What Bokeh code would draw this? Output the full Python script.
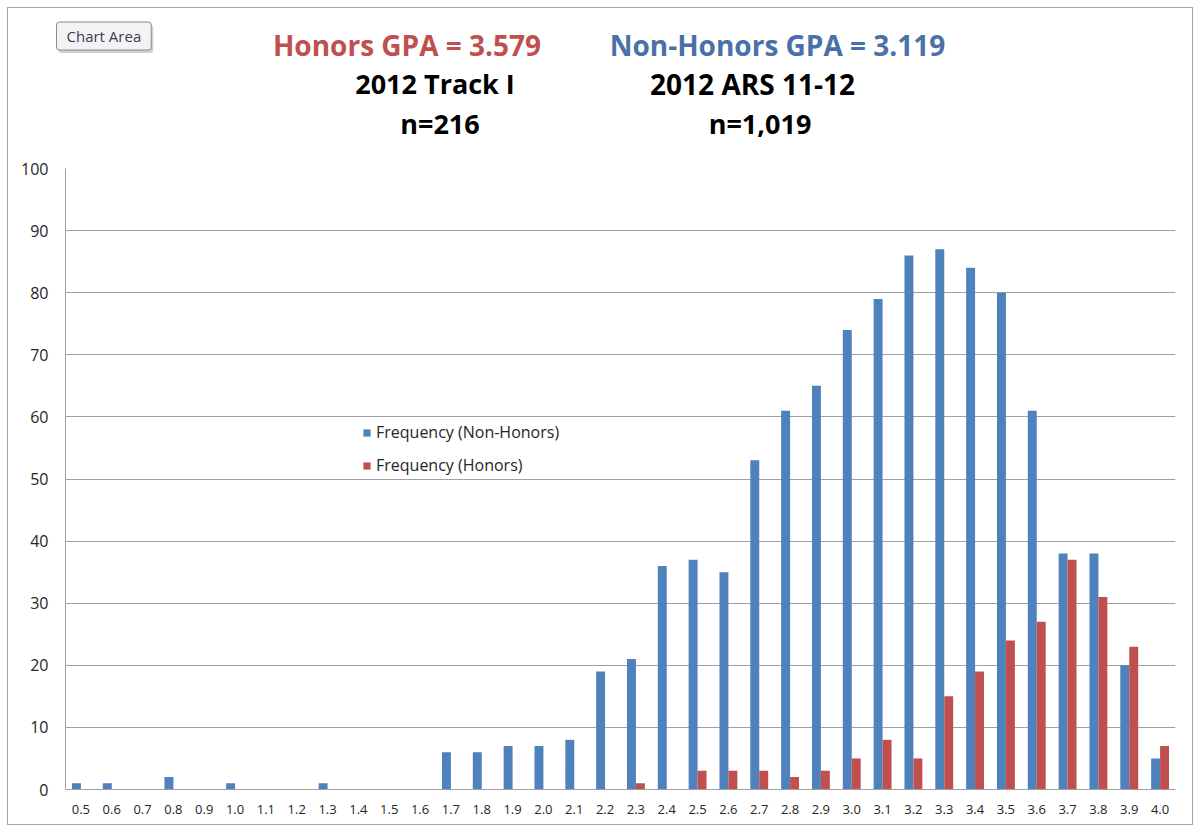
from bokeh.plotting import figure
from bokeh.layouts import column, row
from bokeh.models import ColumnDataSource, FactorRange, Label, Legend, LegendItem, Range1d
from bokeh.transform import dodge
from bokeh.embed import file_html
from bokeh.resources import INLINE

gpa = ["0.5", "0.6", "0.7", "0.8", "0.9", "1.0", "1.1", "1.2", "1.3", "1.4",
       "1.5", "1.6", "1.7", "1.8", "1.9", "2.0", "2.1", "2.2", "2.3", "2.4",
       "2.5", "2.6", "2.7", "2.8", "2.9", "3.0", "3.1", "3.2", "3.3", "3.4",
       "3.5", "3.6", "3.7", "3.8", "3.9", "4.0"]
non_honors = [1, 1, 0, 2, 0, 1, 0, 0, 1, 0,
              0, 0, 6, 6, 7, 7, 8, 19, 21, 36,
              37, 35, 53, 61, 65, 74, 79, 86, 87, 84,
              80, 61, 38, 38, 20, 5]
honors = [0, 0, 0, 0, 0, 0, 0, 0, 0, 0,
          0, 0, 0, 0, 0, 0, 0, 0, 1, 0,
          3, 3, 3, 2, 3, 5, 8, 5, 15, 19,
          24, 27, 37, 31, 23, 7]
y_ticks = [0, 10, 20, 30, 40, 50, 60, 70, 80, 90, 100]

FONT = "Open Sans"
BLUE = "#4f81bd"
RED = "#c0504d"

LEFT, RIGHT, FW = 57, 17, 1110

# ---- header (titles) ----
t = figure(frame_width=1184, frame_height=150, x_range=Range1d(8, 1192), y_range=Range1d(158, 8),
           min_border=0, x_axis_location=None, y_axis_location=None,
           output_backend="svg", toolbar_location=None, outline_line_color=None,
           background_fill_color="white", border_fill_color="white")
t.xgrid.visible = False
t.ygrid.visible = False

def add_text(txt, x, y, color, size):
    t.add_layout(Label(x=x, y=y, text=txt,
                       text_font=FONT, text_font_style="bold", text_font_size=size,
                       text_color=color, text_align="center", text_baseline="middle"))

add_text("Honors GPA = 3.579", 406.5, 44, RED, "28px")
add_text("Non-Honors GPA = 3.119", 777, 44, "#4a70a8", "28px")
add_text("2012 Track I", 434.5, 83, "black", "27px")
add_text("n=216", 439.5, 123, "black", "27px")
add_text("2012 ARS 11-12", 752, 83, "black", "28px")
add_text("n=1,019", 759.5, 123, "black", "27px")

# "Chart Area" tag with a soft shadow
t.add_layout(Label(x=58, y=38.5, text="Chart Area",
                   text_font=FONT, text_font_size="15px", text_color="#d0d0d0",
                   text_align="left", text_baseline="middle",
                   background_fill_color="#d0d0d0", border_line_color=None,
                   padding=(10, 4), border_radius=3))
t.add_layout(Label(x=56, y=35.5, text="Chart Area",
                   text_font=FONT, text_font_size="15px", text_color="#3c3c50",
                   text_align="left", text_baseline="middle",
                   background_fill_color="#f3f3f7", border_line_color="#8a8a8a",
                   padding=(10, 4), border_radius=3))

# ---- main chart ----
src = ColumnDataSource(dict(gpa=gpa, non_honors=non_honors, honors=honors))

p = figure(x_range=FactorRange(factors=gpa), y_range=Range1d(0, 100),
           frame_width=FW, frame_height=621,
           min_border_left=LEFT, min_border_right=RIGHT, min_border_top=10, min_border_bottom=35,
           output_backend="svg", toolbar_location=None, outline_line_color=None,
           background_fill_color="white", border_fill_color="white")

r1 = p.vbar(x=dodge("gpa", -0.145, range=p.x_range), top="non_honors", width=0.29,
            source=src, fill_color=BLUE, line_color=None)
r2 = p.vbar(x=dodge("gpa", 0.145, range=p.x_range), top="honors", width=0.29,
            source=src, fill_color=RED, line_color=None)

p.xgrid.visible = False
p.ygrid.grid_line_color = "#a0a0a0"
p.ygrid.grid_line_width = 1

p.yaxis.ticker = y_ticks
for ax in (p.xaxis, p.yaxis):
    ax.axis_line_color = "#a0a0a0"
    ax.major_tick_line_color = None
    ax.minor_tick_line_color = None
    ax.major_tick_out = 0
    ax.major_tick_in = 0
    ax.major_label_text_font = FONT
    ax.major_label_text_color = "#262626"
p.yaxis.major_label_text_font_size = "16px"
p.yaxis.major_label_standoff = 17
p.xaxis.major_label_text_font_size = "13px"
p.xaxis.major_label_standoff = 15

legend = Legend(items=[LegendItem(label="Frequency (Non-Honors)", renderers=[r1]),
                       LegendItem(label="Frequency (Honors)", renderers=[r2])],
                location=(297, 313), glyph_width=9, glyph_height=9, label_height=22,
                spacing=11, padding=0, margin=0, label_standoff=5,
                border_line_color=None, background_fill_alpha=0,
                label_text_font=FONT, label_text_font_size="16px",
                label_text_color="#262626")
p.add_layout(legend)

layout = column(row(t, spacing=0), p, spacing=0)
layout.styles = {"border": "1px solid #a6a6a6", "margin": "7px 0 0 7px"}

open("out.html", "w").write(file_html(layout, INLINE))
